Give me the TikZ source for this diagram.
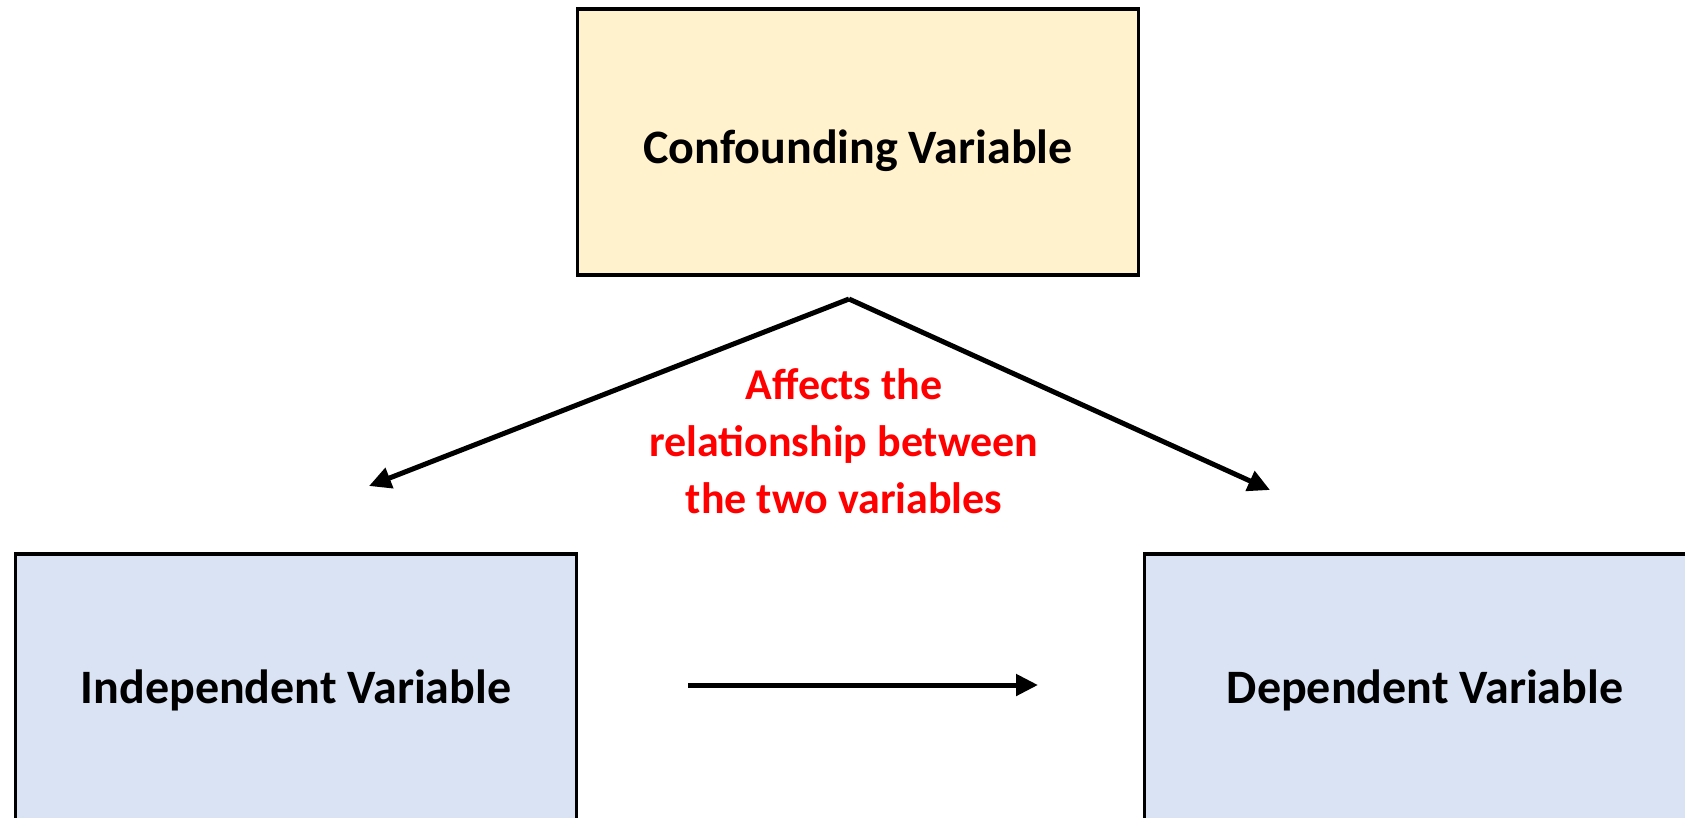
\documentclass[tikz,border=0pt]{standalone}
\usepackage{fontspec}
\setmainfont{Carlito}
\usetikzlibrary{arrows.meta}
\definecolor{goldfill}{HTML}{FFF2CC}
\definecolor{bluefill}{HTML}{DAE3F3}
\definecolor{labelred}{HTML}{FF0000}
\tikzset{
  varbox/.style={draw=black, line width=3.5pt, minimum width=561pt, minimum height=266pt,
    inner sep=0pt},
  boxtext/.style={inner sep=0pt, font=\fontsize{48}{56}\selectfont\bfseries},
  link/.style={line width=5pt, -{Triangle[length=22pt,width=21pt]}}
}
\begin{document}
\begin{tikzpicture}[x=1pt,y=-1pt]
  \useasboundingbox (0,0) rectangle (1685,817);
  % the three variables
  \node[varbox, fill=goldfill] (conf) at (858,142) {};
  \node[varbox, fill=bluefill] (indep) at (296,687) {};
  \node[varbox, fill=bluefill] (dep) at (1425,687) {};
  \node[boxtext] (conftext) at ([yshift=-9pt]conf.center) {Confounding Variable};
  \node[boxtext] (indeptext) at ([yshift=-3pt]indep.center) {Independent Variable};
  \node[boxtext] (deptext) at ([yshift=-3pt]dep.center) {Dependent Variable};
  % connector end points
  \coordinate (apex) at (849,299);
  \coordinate (lefttip) at (369,486);
  \coordinate (righttip) at (1270,490);
  \coordinate (hstart) at (688,685);
  \coordinate (hend) at (1038,685);
  % arrows
  \draw[link] (apex) -- (lefttip);
  \draw[link] (apex) -- (righttip);
  \draw[link] (hstart) -- (hend);
  % label of the confounding effect
  \node[text=labelred, align=center, font=\fontsize{44}{57}\selectfont\bfseries] (effect) at (844,441)
    {Affects the\\relationship between\\the two variables};
\end{tikzpicture}
\end{document}
